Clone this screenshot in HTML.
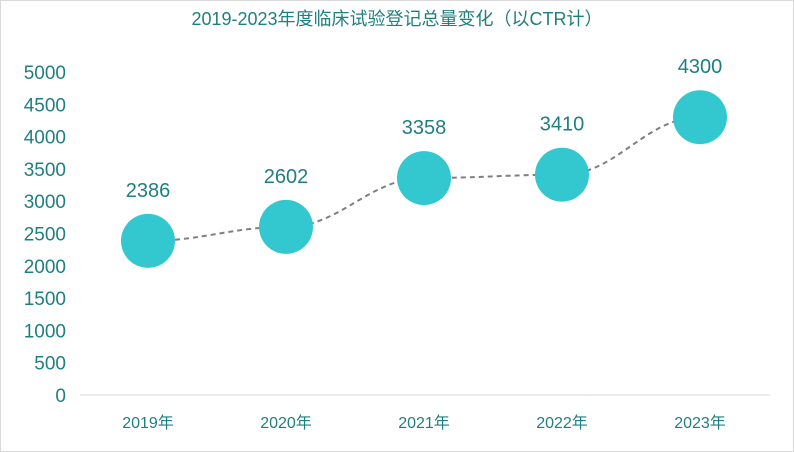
<!DOCTYPE html>
<html><head><meta charset="utf-8"><style>
body{margin:0;background:#fff}
svg{display:block;font-family:"Liberation Sans","Noto Sans CJK SC",sans-serif}
</style></head><body>
<svg id="c" width="794" height="452">
<rect x="0.5" y="0.5" width="793" height="451" fill="#fff" stroke="#d9d9d9"/>
<text x="397" y="25" text-anchor="middle" font-size="18" fill="#1f7f80">2019-2023年度临床试验登记总量变化（以CTR计）</text>
<g id="yaxis"></g>
<g id="xaxis"></g>
<path id="line" fill="none" stroke="#7f7f7f" stroke-width="2" stroke-dasharray="5,4"/>
<g id="marks"></g>
</svg>
<script>
const categories=["2019年","2020年","2021年","2022年","2023年"];
const values=[2386,2602,3358,3410,4300];
const yTicks=[0,500,1000,1500,2000,2500,3000,3500,4000,4500,5000];
const NS="http://www.w3.org/2000/svg";
const y=v=>395-v*(323/5000);
const x=i=>148+i*138;
function mk(t,a,p){const e=document.createElementNS(NS,t);for(const k in a)e.setAttribute(k,a[k]);p.appendChild(e);return e;}
const ya=document.getElementById('yaxis');
yTicks.forEach(t=>{const e=mk('text',{x:66,y:y(t)+7,'text-anchor':'end','font-size':19,fill:'#1f7f80'},ya);


e.textContent=t;});
const xa=document.getElementById('xaxis');
const ax=mk('line',{x1:80,x2:770,y1:395,y2:395,stroke:'#d9d9d9','stroke-width':1},xa);


categories.forEach((c,i)=>{const e=mk('text',{x:x(i),y:428,'text-anchor':'middle','font-size':16,fill:'#1f7f80'},xa);


e.textContent=c;});
let d='';const pts=values.map((v,i)=>[x(i),y(v)]);
d='M'+pts[0][0]+','+pts[0][1];
for(let i=1;i<pts.length;i++){const p0=pts[i-1],p1=pts[i],dx=(p1[0]-p0[0])/2.5;
d+=` C${p0[0]+dx},${p0[1]} ${p1[0]-dx},${p1[1]} ${p1[0]},${p1[1]}`;}
document.getElementById('line').setAttribute('d',d);
const m=document.getElementById('marks');
values.forEach((v,i)=>{const c=mk('circle',{cx:x(i),cy:y(v),r:27,fill:'#33c7d0'},m);


const t=mk('text',{x:x(i),y:y(v)-44,'text-anchor':'middle','font-size':20,fill:'#1f7f80'},m);


t.textContent=v;});
</script>
</body></html>
